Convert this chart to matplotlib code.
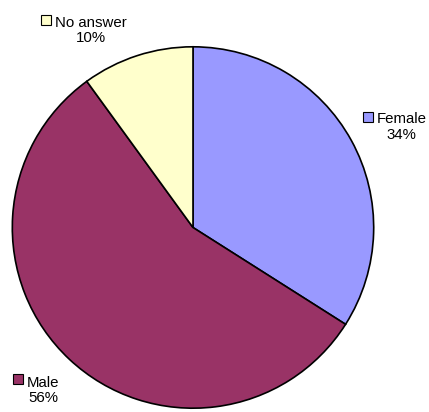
import matplotlib
matplotlib.use("Agg")
import matplotlib.pyplot as plt
import matplotlib.patches as patches

# Survey answers (percent)
labels = ["Female", "Male", "No answer"]
values = [34, 56, 10]
colors = ["#9999FF", "#993366", "#FFFFCC"]

W, H = 429, 412
fig = plt.figure(figsize=(W / 100, H / 100), dpi=100)
plt.rcParams['font.family'] = ['Liberation Sans', 'DejaVu Sans']

# pie centre (193, 227.5) px, radius 182.5 px
cx, cy, r = 193, 227.5, 182.5
ax = fig.add_axes([(cx - r) / W, 1 - (cy + r) / H, 2 * r / W, 2 * r / H])
ax.pie(values, colors=colors, startangle=90, counterclock=False,
       wedgeprops=dict(edgecolor="black", linewidth=1.2), radius=1)
ax.set_xlim(-1.01, 1.01)
ax.set_ylim(-1.01, 1.01)
ax.set_aspect("equal")
ax.axis("off")

# label blocks: (square centre px, text centre px)
label_pos = {
    "Female": ((367.5, 117), (401.5, 127)),
    "Male": ((17.7, 378.5), (43.5, 390.5)),
    "No answer": ((46, 19.5), (91, 30.5)),
}

sq = 10
for name, val, col in zip(labels, values, colors):
    (sx, sy), (tx, ty) = label_pos[name]
    rect = patches.Rectangle(((sx - sq / 2) / W, 1 - (sy + sq / 2) / H), sq / W, sq / H,
                             transform=fig.transFigure, facecolor=col,
                             edgecolor="black", linewidth=0.8)
    fig.add_artist(rect)
    fig.text(tx / W, 1 - ty / H, f"{name}\n{val}%", ha="center", va="center",
             multialignment="center", fontsize=10.8, linespacing=1.15)

fig.savefig("out.png", dpi=100)
